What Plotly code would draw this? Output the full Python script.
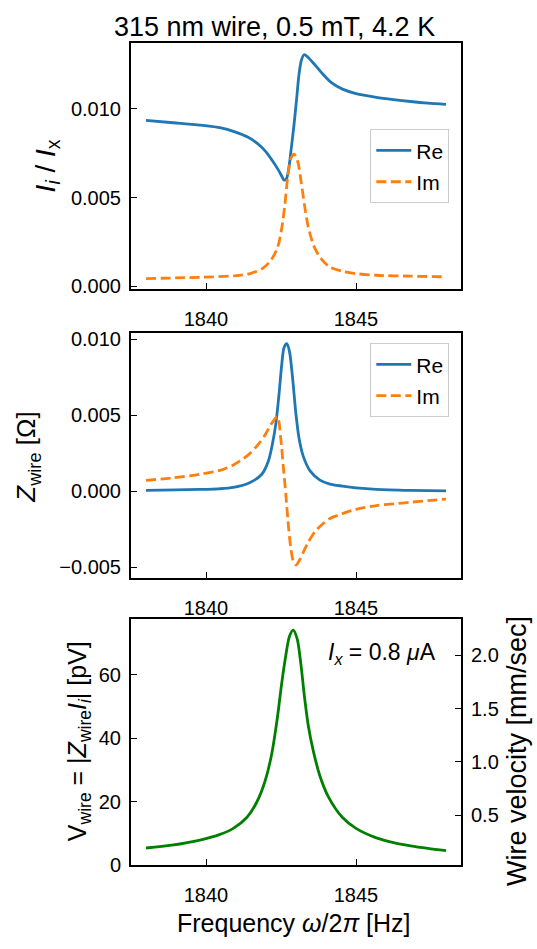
import plotly.graph_objects as go

# ---- data -------------------------------------------------------------
# normalised induced current I_i / I_x
freq_i_re = [1838.0, 1838.9, 1839.9, 1840.5, 1840.94, 1841.39, 1841.72, 1842.0, 1842.22,
             1842.41, 1842.52, 1842.6, 1842.68, 1842.76, 1842.84, 1842.93, 1843.02,
             1843.1, 1843.18, 1843.27, 1843.4, 1843.6, 1843.85, 1844.17, 1844.55,
             1845.0, 1845.68, 1846.25, 1846.82, 1847.39, 1848.0]
i_re = [0.00935, 0.00922, 0.00907, 0.00893, 0.00872, 0.00841, 0.00804, 0.00758, 0.00706,
        0.00656, 0.00622, 0.00598, 0.00605, 0.00665, 0.00775, 0.00905, 0.01055,
        0.01195, 0.01275, 0.01306, 0.01292, 0.01255, 0.01205, 0.01150, 0.01112,
        0.01087, 0.01066, 0.01053, 0.01042, 0.01033, 0.01026]

freq_i_im = [1838.0, 1839.0, 1839.9, 1840.94, 1841.5, 1841.89, 1842.17, 1842.39, 1842.53,
             1842.63, 1842.72, 1842.83, 1842.94, 1843.06, 1843.17, 1843.28, 1843.41,
             1843.61, 1843.83, 1844.11, 1844.55, 1845.0, 1845.68, 1846.8, 1848.0]
i_im = [0.00042, 0.00046, 0.00050, 0.00058, 0.00072, 0.00100, 0.00147, 0.00220, 0.00332,
        0.00461, 0.00609, 0.00720, 0.00745, 0.00702, 0.00591, 0.00461, 0.00332,
        0.00220, 0.00156, 0.00109, 0.00083, 0.00070, 0.00061, 0.00056, 0.00052]

# wire impedance Z_wire [Ohm]
freq_z_re = [1838.0, 1839.0, 1839.8, 1840.4, 1840.91, 1841.47, 1841.86, 1842.08, 1842.22,
             1842.33, 1842.43, 1842.52, 1842.6, 1842.69, 1842.78, 1842.89, 1842.99,
             1843.1, 1843.24, 1843.47, 1843.8, 1844.13, 1844.55, 1845.0, 1845.68,
             1846.82, 1848.0]
z_re = [0.00006, 0.00009, 0.00012, 0.00016, 0.00025, 0.00058, 0.00112, 0.00199, 0.00317,
        0.00447, 0.00630, 0.00824, 0.00944, 0.00971, 0.00922, 0.00738, 0.00523,
        0.00350, 0.00231, 0.00134, 0.00073, 0.00047, 0.00034, 0.00023, 0.00013,
        0.00006, 0.00002]

freq_z_im = [1838.0, 1838.86, 1839.8, 1840.47, 1840.91, 1841.36, 1841.69, 1841.97, 1842.19,
             1842.38, 1842.49, 1842.58, 1842.66, 1842.73, 1842.82, 1842.91, 1843.0,
             1843.13, 1843.36, 1843.63, 1843.91, 1844.13, 1844.55, 1845.0, 1845.68,
             1846.25, 1846.82, 1847.39, 1848.0]
z_im = [0.00072, 0.00087, 0.00112, 0.00138, 0.00173, 0.00231, 0.00296, 0.00371, 0.00447,
        0.00490, 0.00350, 0.00155, -0.00017, -0.00190, -0.00363, -0.00460, -0.00485,
        -0.00449, -0.00352, -0.00266, -0.00212, -0.00179, -0.00147, -0.00119, -0.00094,
        -0.00083, -0.00072, -0.00062, -0.00051]

# voltage across the wire [pV]
freq_v = [1838.0, 1838.86, 1839.8, 1840.47, 1840.91, 1841.36, 1841.69, 1841.97, 1842.19,
          1842.38, 1842.52, 1842.66, 1842.78, 1842.91, 1843.04, 1843.16, 1843.28,
          1843.41, 1843.58, 1843.8, 1844.08, 1844.55, 1845.0, 1845.68, 1846.25,
          1846.82, 1847.4, 1848.0]
v_wire = [5.4, 6.3, 7.9, 9.7, 11.6, 15.0, 19.8, 26.5, 35.0,
          46.5, 57.0, 66.0, 72.0, 74.0, 71.2, 63.5, 53.2,
          43.9, 35.8, 28.0, 21.5, 15.0, 11.6, 8.6, 7.1,
          6.1, 5.3, 4.6]

x_ticks = [1840, 1845]
y1_ticks = [0.000, 0.005, 0.010]
y2_ticks = [-0.005, 0.000, 0.005, 0.010]
y3_ticks = [0, 20, 40, 60]
vel_ticks = [0.5, 1.0, 1.5, 2.0]

# ---- styling ------------------------------------------------------------
W, H = 537, 949
FONT = "Liberation Sans"
TICK = 20
BLUE, ORANGE, GREEN = "#1f77b4", "#ff7f0e", "#008000"
LW = 2.8
DASH = "10px,4.5px"
SMOOTH = dict(shape="spline", smoothing=0.8)


def px(x):
    return x / W


def py(y):
    return 1 - y / H


xdom = [px(131), px(461)]
dom1 = [py(290), py(39.7)]
dom2 = [py(583.3), py(334)]
dom3 = [py(875), py(624.5)]

fig = go.Figure()

fig.add_trace(go.Scatter(x=freq_i_re, y=i_re, name="Re", mode="lines", xaxis="x", yaxis="y",
                         line=dict(color=BLUE, width=LW, **SMOOTH),
                         legend="legend", legendgroup="a"))
fig.add_trace(go.Scatter(x=freq_i_im, y=i_im, name="Im", mode="lines", xaxis="x", yaxis="y",
                         line=dict(color=ORANGE, width=LW, dash=DASH, **SMOOTH),
                         legend="legend", legendgroup="b"))
fig.add_trace(go.Scatter(x=freq_z_re, y=z_re, name="Re", mode="lines", xaxis="x2", yaxis="y2",
                         line=dict(color=BLUE, width=LW, **SMOOTH),
                         legend="legend2", legendgroup="c"))
fig.add_trace(go.Scatter(x=freq_z_im, y=z_im, name="Im", mode="lines", xaxis="x2", yaxis="y2",
                         line=dict(color=ORANGE, width=LW, dash=DASH, **SMOOTH),
                         legend="legend2", legendgroup="d"))
fig.add_trace(go.Scatter(x=freq_v, y=v_wire, mode="lines", xaxis="x3", yaxis="y3", showlegend=False,
                         line=dict(color=GREEN, width=LW, **SMOOTH)))
# empty trace so that the velocity axis on the right is drawn
fig.add_trace(go.Scatter(x=[None], y=[None], mode="lines", xaxis="x3", yaxis="y4",
                         showlegend=False, hoverinfo="skip"))

axis_common = dict(showline=True, linecolor="black", linewidth=2, mirror=True,
                   ticks="inside", ticklen=6, tickwidth=1.2, tickcolor="black",
                   showgrid=False, zeroline=False, tickfont=dict(size=TICK, color="black"))

xcommon = dict(axis_common, domain=xdom, range=[1837.5, 1848.5], tickvals=x_ticks,
               ticklabelstandoff=11)

legend_common = dict(bgcolor="white", bordercolor="#cccccc", borderwidth=1,
                     font=dict(size=TICK + 1, color="black"), xanchor="right", yanchor="top",
                     tracegroupgap=1, itemwidth=35)

fig.update_layout(
    width=W, height=H, margin=dict(l=0, r=0, t=0, b=0),
    paper_bgcolor="white", plot_bgcolor="white",
    font=dict(family=FONT, color="black"),
    xaxis=dict(xcommon, anchor="y"),
    xaxis2=dict(xcommon, anchor="y2"),
    xaxis3=dict(xcommon, anchor="y3"),
    yaxis=dict(axis_common, domain=dom1, anchor="x", range=[-0.00019, 0.01372],
               tickvals=y1_ticks, tickformat=".3f", ticklabelstandoff=4),
    yaxis2=dict(axis_common, domain=dom2, anchor="x2", range=[-0.00571, 0.01043],
                tickvals=y2_ticks, tickformat=".3f", ticklabelstandoff=4),
    yaxis3=dict(axis_common, domain=dom3, anchor="x3", range=[0, 77.6],
                tickvals=y3_ticks, ticklabelstandoff=4),
    yaxis4=dict(axis_common, domain=dom3, anchor="x3", overlaying="y3", side="right",
                range=[0.0323, 2.344], tickvals=vel_ticks, tickformat=".1f",
                ticklabelstandoff=4, mirror=False),
    legend=dict(legend_common, x=px(449.3), y=py(127.3)),
    legend2=dict(legend_common, x=px(449.3), y=py(344.7)),
)

annotations = [
    dict(text="315 nm wire, 0.5 mT, 4.2 K", x=px(274), y=py(23), font=dict(size=27)),
    dict(text="<i>I<sub>i</sub></i> / <i>I</i><sub>x</sub>", x=px(47), y=py(165),
         textangle=-90, font=dict(size=28)),
    dict(text="<i>Z</i><sub>wire</sub> [Ω]", x=px(28), y=py(461), textangle=-90,
         font=dict(size=26)),
    dict(text="V<sub>wire</sub> = |<i>Z</i><sub>wire</sub><i>I<sub>i</sub></i>| [pV]",
         x=px(79), y=py(749), textangle=-90, font=dict(size=25)),
    dict(text="Wire velocity [mm/sec]", x=px(517), y=py(759), textangle=-90,
         font=dict(size=27)),
    dict(text="Frequency <i>ω</i>/2<i>π</i> [Hz]", x=px(294), y=py(934),
         font=dict(size=25)),
    dict(text="<i>I<sub>x</sub></i> = 0.8 <i>μ</i>A", x=px(438), y=py(660),
         xanchor="right", font=dict(size=23)),
]
for a in annotations:
    a.setdefault("xanchor", "center")
    a.update(xref="paper", yref="paper", yanchor="middle", showarrow=False)
fig.update_layout(annotations=annotations)

fig.write_html("out.html")
